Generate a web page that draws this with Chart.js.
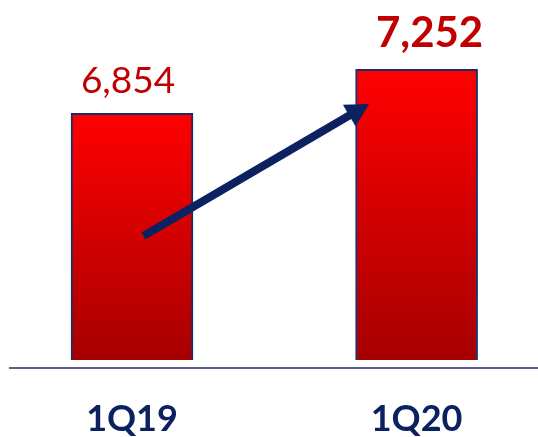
<!DOCTYPE html>
<html>
<head>
<meta charset="utf-8">
<script src="https://cdn.jsdelivr.net/npm/chart.js@4.4.1/dist/chart.umd.min.js"></script>
<style>
    body { margin: 0; background: #fff; }
</style>
</head>
<body>
<canvas id="growth-chart" width="538" height="437"></canvas>
<script>
var quarters = ['1Q19', '1Q20'];
var values = [6854, 7252];
var valueLabels = ['6,854', '7,252'];

var navy = '#0b2160';
var darkRed = '#c00000';

// value labels, growth arrow and the base line
var extras = {
    id: 'extras',
    afterDatasetsDraw: function (chart) {
        var ctx = chart.ctx;
        var meta = chart.getDatasetMeta(0);
        var x = chart.scales.x, y = chart.scales.y;

        ctx.save();

        // base line
        ctx.strokeStyle = '#1f2f6a';
        ctx.lineWidth = 1.5;
        ctx.beginPath();
        ctx.moveTo(9, chart.chartArea.bottom + 8);
        ctx.lineTo(chart.width, chart.chartArea.bottom + 8);
        ctx.stroke();

        // labels above bars
        ctx.fillStyle = darkRed;
        ctx.textAlign = 'center';
        ctx.textBaseline = 'alphabetic';
        var bar0 = meta.data[0], bar1 = meta.data[1];
        ctx.font = '37px Lato';
        ctx.fillText(valueLabels[0], bar0.x - 4, bar0.y - 20);
        ctx.font = 'bold 42px Lato';
        ctx.fillText(valueLabels[1], bar1.x + 13, bar1.y - 22);

        // arrow
        var x0 = x.getPixelForValue(0.04), y0 = y.getPixelForValue(5745);
        var x1 = x.getPixelForValue(0.833), y1 = y.getPixelForValue(6939);
        var ang = Math.atan2(y1 - y0, x1 - x0);
        var headLen = 23, headHalf = 12.5;
        var bx = x1 - headLen * Math.cos(ang), by = y1 - headLen * Math.sin(ang);
        ctx.strokeStyle = navy;
        ctx.fillStyle = navy;
        ctx.lineWidth = 8;
        ctx.beginPath();
        ctx.moveTo(x0, y0);
        ctx.lineTo(bx + 2 * Math.cos(ang), by + 2 * Math.sin(ang));
        ctx.stroke();
        ctx.beginPath();
        ctx.moveTo(x1, y1);
        ctx.lineTo(bx + headHalf * Math.sin(ang), by - headHalf * Math.cos(ang));
        ctx.lineTo(bx - headHalf * Math.sin(ang), by + headHalf * Math.cos(ang));
        ctx.closePath();
        ctx.fill();

        ctx.restore();
    }
};

function barGradient(context) {
    var chart = context.chart;
    var y = chart.scales.y;
    if (!y || context.dataIndex === undefined) return '#e00000';
    var top = y.getPixelForValue(values[context.dataIndex]);
    var bottom = y.getPixelForValue(y.min);
    if (!isFinite(top) || !isFinite(bottom)) return '#e00000';
    var g = chart.ctx.createLinearGradient(0, top, 0, bottom);
    g.addColorStop(0, '#ff0000');
    g.addColorStop(1, '#a60000');
    return g;
}

var points = values.map(function (v, i) { return { x: i, y: v }; });

new Chart(document.getElementById('growth-chart').getContext('2d'), {
    type: 'bar',
    data: {
        datasets: [{
            data: points,
            backgroundColor: barGradient,
            borderColor: '#1a2d6b',
            borderWidth: 2,
            borderSkipped: false,
            barThickness: 122
        }]
    },
    plugins: [extras],
    options: {
        responsive: false,
        animation: false,
        layout: {
            padding: { left: 0, right: 0, top: 10, bottom: 0 }
        },
        scales: {
            x: {
                type: 'linear',
                offset: false,
                min: -0.4638,
                max: 1.4266,
                grid: { display: false, drawTicks: false, offset: false },
                border: { display: false },
                afterFit: function (scale) { scale.height = 77; },
                ticks: {
                    stepSize: 1,
                    includeBounds: false,
                    padding: 38,
                    color: navy,
                    autoSkip: false,
                    maxRotation: 0,
                    font: { family: 'Lato', size: 36, weight: 'bold' },
                    callback: function (value) {
                        return Number.isInteger(value) ? quarters[value] : '';
                    }
                }
            },
            y: {
                display: false,
                min: 4623,
                max: 7789
            }
        },
        plugins: {
            legend: { display: false },
            tooltip: { enabled: false }
        }
    }
});
</script>
</body>
</html>
